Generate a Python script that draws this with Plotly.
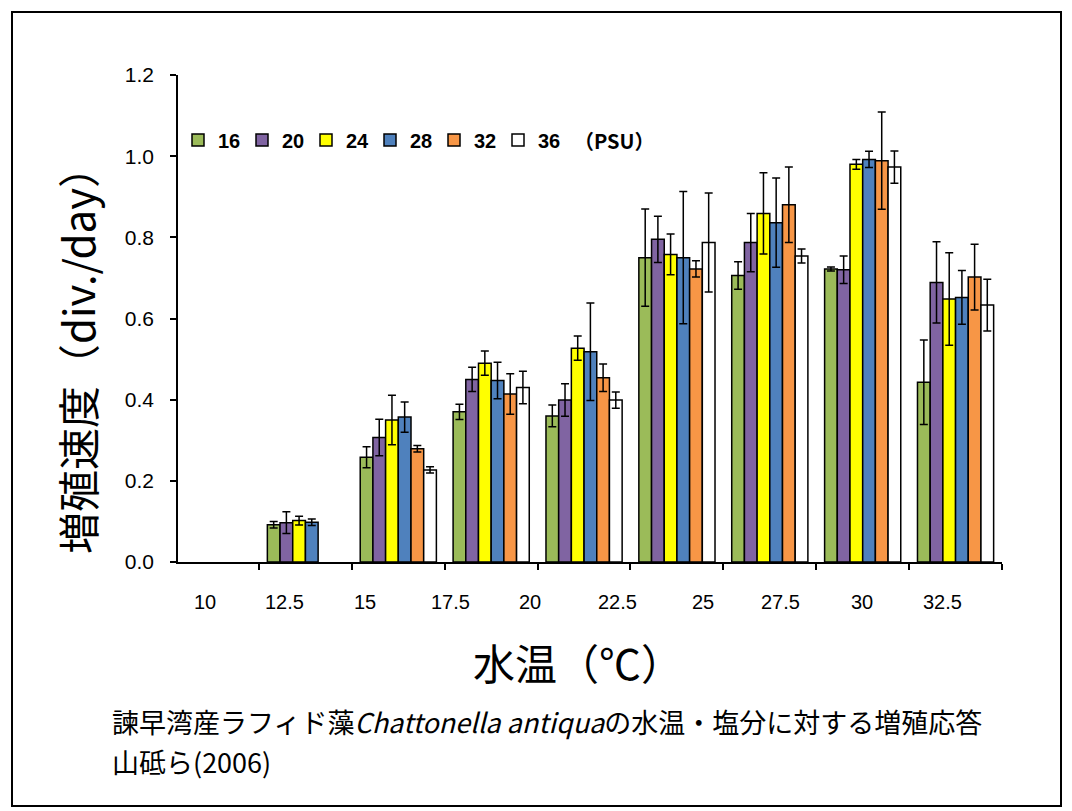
import plotly.graph_objects as go

# ---- data ----
groups = ["10", "12.5", "15", "17.5", "20", "22.5", "25", "27.5", "30"]
tick_labels = ["10", "12.5", "15", "17.5", "20", "22.5", "25", "27.5", "30", "32.5"]
salinity = ["16", "20", "24", "28", "32", "36"]

rate_16 = [None, 0.092, 0.258, 0.370, 0.360, 0.750, 0.706, 0.722, 0.443]
err_16 = [0, 0.008, 0.026, 0.019, 0.027, 0.120, 0.034, 0.005, 0.104]
rate_20 = [None, 0.097, 0.307, 0.450, 0.399, 0.795, 0.787, 0.720, 0.689]
err_20 = [0, 0.027, 0.045, 0.030, 0.040, 0.057, 0.072, 0.034, 0.100]
rate_24 = [None, 0.102, 0.350, 0.490, 0.527, 0.758, 0.859, 0.980, 0.648]
err_24 = [0, 0.011, 0.061, 0.030, 0.030, 0.050, 0.100, 0.012, 0.114]
rate_28 = [None, 0.098, 0.357, 0.447, 0.518, 0.750, 0.836, 0.992, 0.652]
err_28 = [0, 0.008, 0.037, 0.045, 0.120, 0.163, 0.110, 0.020, 0.066]
rate_32 = [None, None, 0.279, 0.414, 0.454, 0.722, 0.880, 0.989, 0.702]
err_32 = [0, 0, 0.008, 0.050, 0.034, 0.020, 0.093, 0.120, 0.081]
rate_36 = [None, None, 0.227, 0.430, 0.399, 0.787, 0.754, 0.973, 0.633]
err_36 = [0, 0, 0.008, 0.040, 0.020, 0.122, 0.017, 0.040, 0.064]

rates = [rate_16, rate_20, rate_24, rate_28, rate_32, rate_36]
errs = [err_16, err_20, err_24, err_28, err_32, err_36]

# ---- styles / layout constants ----
COLORS = ["#9BBB59", "#8064A2", "#FFFF00", "#4F81BD", "#F79646", "#FFFFFF"]
LABEL_POS = [-0.08, 0.78, 1.64, 2.56, 3.42, 4.36, 5.28, 6.11, 6.99, 7.86]
X_RANGE = [-0.372, 8.5]
W, H = 1072, 811
L, R, T, B = 178, 70, 75, 249
PW, PH = W - L - R, H - T - B


def px_x(px):
    return (px - L) / PW


def px_y(py):
    return (H - B - py) / PH


ARIAL = "Liberation Sans, Arial, sans-serif"
JP = "Noto Sans CJK JP, sans-serif"

fig = go.Figure()
for name, vals, er, col in zip(salinity, rates, errs, COLORS):
    fig.add_trace(go.Bar(
        x=groups, y=vals, name=name,
        marker=dict(color=col, line=dict(color="black", width=1.5)),
        error_y=dict(type="data", array=er, visible=True, color="black",
                     thickness=1.5, width=4),
    ))

fig.update_layout(
    width=W, height=H,
    margin=dict(l=L, r=R, t=T, b=B, autoexpand=False),
    paper_bgcolor="white", plot_bgcolor="white",
    barmode="group", bargap=0.18, bargroupgap=0,
    font=dict(family=ARIAL, color="black"),
    legend=dict(orientation="h", x=px_x(178), y=px_y(140), xanchor="left",
                yanchor="middle", bgcolor="rgba(0,0,0,0)",
                font=dict(family=ARIAL, size=20, color="black", weight="bold"),
                itemwidth=30, traceorder="normal",
                entrywidth=19, entrywidthmode="pixels"),
    xaxis=dict(type="category", range=X_RANGE, tickson="boundaries",
               ticks="outside", ticklen=6, tickwidth=1.5, tickcolor="black",
               showticklabels=False, showline=True, linecolor="black",
               linewidth=1.5, showgrid=False, zeroline=False),
    yaxis=dict(range=[0, 1.2], dtick=0.2, tickformat=".1f", ticks="outside",
               ticklen=6, tickwidth=1.5, tickcolor="black", showline=True,
               linecolor="black", linewidth=1.5, showgrid=False,
               zeroline=False, ticklabelstandoff=12,
               tickfont=dict(family=ARIAL, size=21, color="black")),
    showlegend=True,
)

annotations = []
# category labels (placed as in the reference, offset from the tick marks)
for pos, lab in zip(LABEL_POS, tick_labels):
    annotations.append(dict(
        text=lab, x=pos, y=px_y(602), xref="x", yref="paper",
        xanchor="center", yanchor="middle", showarrow=False,
        font=dict(family=ARIAL, size=20, color="black")))

annotations += [
    dict(text="（PSU）", x=px_x(614), y=px_y(140), xref="paper", yref="paper",
         xanchor="center", yanchor="middle", showarrow=False,
         font=dict(family=JP, size=20, color="black", weight="bold")),
    dict(text="増殖速度（div./day）", x=px_x(76), y=px_y(350), xref="paper",
         yref="paper", xanchor="center", yanchor="middle", textangle=-90,
         showarrow=False, font=dict(family=JP, size=42, color="black")),
    dict(text="水温（℃）", x=px_x(578), y=px_y(661), xref="paper", yref="paper",
         xanchor="center", yanchor="middle", showarrow=False,
         font=dict(family=JP, size=42, color="black")),
    dict(text="諫早湾産ラフィド藻<i>Chattonella antiqua</i>の水温・塩分に対する増殖応答",
         x=px_x(110), y=px_y(721), xref="paper", yref="paper", xanchor="left",
         yanchor="middle", showarrow=False,
         font=dict(family=JP, size=27, color="black")),
    dict(text="山砥ら(2006)",
         x=px_x(110), y=px_y(761), xref="paper", yref="paper", xanchor="left",
         yanchor="middle", showarrow=False,
         font=dict(family=JP, size=27, color="black")),
]
fig.update_layout(annotations=annotations)

fig.add_shape(type="rect", xref="paper", yref="paper",
              x0=px_x(12), x1=px_x(1061), y0=px_y(806), y1=px_y(12),
              line=dict(color="black", width=2), fillcolor="rgba(0,0,0,0)",
              layer="below")

fig.write_html("out.html")
